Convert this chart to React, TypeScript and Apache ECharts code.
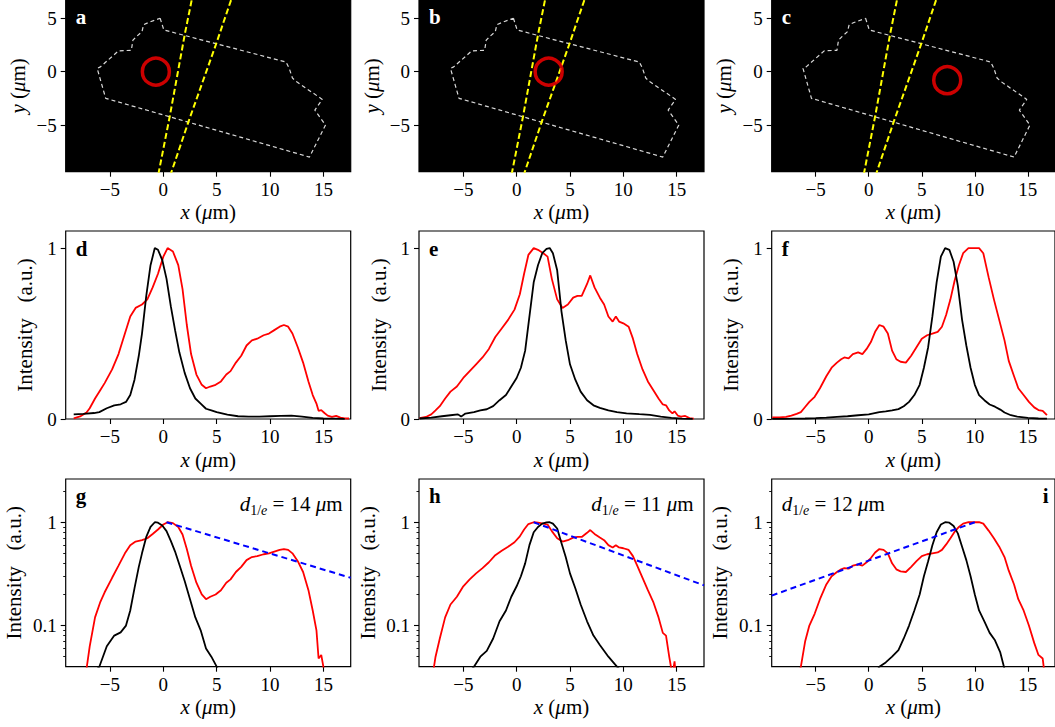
import React, { useEffect, useRef } from "react";
import * as echarts from "echarts";

// ---------- axis ranges & ticks ----------
const X_MIN = -9.15;
const X_MAX = 17.56;
const IMG_Y_MIN = -9.37;
const IMG_Y_MAX = 6.71;
const LIN_Y_MIN = 0;
const LIN_Y_MAX = 1.1;
const LOG_Y_MIN = 0.04;
const LOG_Y_MAX = 2.62;

const xTicks = [-5, 0, 5, 10, 15];
const imgYTicks = [-5, 0, 5];
const linYTicks = [0, 1];
const logYTicks = [0.1, 1];
const logMinorTicks = [0.05, 0.06, 0.07, 0.08, 0.09, 0.2, 0.3, 0.4, 0.5, 0.6, 0.7, 0.8, 0.9, 2];

const panelLetters = ["a", "b", "c", "d", "e", "f", "g", "h", "i"];
const decayLengths = [14, 11, 12];

// ---------- top row: cell outline, guide lines, excitation spot ----------
const cellX = [-0.3, 0.05, 11.5, 11.8, 12.1, 12.5, 14.9, 14.2, 15.2, 13.7, -5.4, -6.2, -5.9, -4.2, -3.0, -2.85, -2.5, -2.0, -1.85, -1.4, -0.3];
const cellY = [5.0, 3.9, 0.9, 0.3, -0.6, -0.95, -2.6, -3.6, -5.0, -8.0, -2.5, 0.3, 0.45, 1.95, 2.0, 2.95, 3.3, 3.75, 4.4, 4.6, 5.0];
const guide1X = [2.81, 2.66, 2.03, 0.6, -0.42, -0.54];
const guide1Y = [7.5, 6.71, 3.6, -4.2, -9.37, -10];
const guide2X = [6.62, 6.35, 4.97, 2.36, 0.77, 0.55];
const guide2Y = [7.5, 6.71, 2.66, -4.68, -9.37, -10];
const spotX = [-0.7, 3.0, 7.4];
const spotY = [0, 0, -0.8];

// ---------- profiles (panel d/g) ----------
const dRedX = [-8.4, -7.8, -7.2, -6.9, -6.4, -5.9, -5.5, -4.8, -4.2, -3.6, -3.1, -2.6, -2.0, -1.5, -1.0, -0.5, 0.0, 0.4, 0.9, 1.4, 1.8, 2.2, 2.6, 3.1, 3.6, 4.0, 4.4, 4.9, 5.4, 5.9, 6.3, 6.8, 7.3, 7.8, 8.3, 8.8, 9.4, 9.9, 10.4, 10.9, 11.3, 11.7, 12.1, 12.6, 13.1, 13.6, 14.0, 14.35, 14.55, 14.8, 15.1, 15.4, 15.8, 16.2, 16.6, 17.0, 17.4];
const dRedV = [0.004, 0.015, 0.038, 0.063, 0.12, 0.17, 0.21, 0.29, 0.38, 0.5, 0.6, 0.65, 0.67, 0.7, 0.77, 0.85, 0.95, 1.0, 0.98, 0.9, 0.76, 0.55, 0.38, 0.26, 0.2, 0.18, 0.19, 0.2, 0.22, 0.26, 0.28, 0.33, 0.37, 0.43, 0.46, 0.47, 0.49, 0.5, 0.52, 0.54, 0.55, 0.54, 0.5, 0.42, 0.33, 0.22, 0.14, 0.09, 0.048, 0.052, 0.035, 0.02, 0.012, 0.018, 0.008, 0.004, 0.003];
const dBlackX = [-8.4, -7.5, -6.5, -6.0, -5.3, -4.6, -4.0, -3.5, -3.1, -2.7, -2.3, -2.0, -1.6, -1.2, -0.8, -0.5, -0.1, 0.3, 0.7, 1.1, 1.5, 2.0, 2.5, 3.0, 3.5, 4.0, 4.5, 5.0, 6.0, 7.0, 8.0, 9.0, 10.0, 11.0, 12.0, 13.0, 14.0, 15.0, 16.0, 17.0];
const dBlackV = [0.027, 0.03, 0.035, 0.04, 0.063, 0.08, 0.086, 0.1, 0.14, 0.23, 0.37, 0.5, 0.72, 0.9, 1.0, 0.99, 0.93, 0.82, 0.66, 0.52, 0.39, 0.27, 0.18, 0.12, 0.09, 0.06, 0.05, 0.04, 0.025, 0.016, 0.014, 0.014, 0.016, 0.018, 0.02, 0.014, 0.006, 0.003, 0.002, 0.001];

// ---------- profiles (panel e/h) ----------
const eRedX = [-9.1, -8.5, -8.0, -7.6, -7.2, -6.7, -6.2, -5.6, -5.0, -4.4, -3.8, -3.2, -2.6, -2.0, -1.4, -0.8, -0.2, 0.3, 0.7, 1.1, 1.6, 2.0, 2.5, 2.9, 3.3, 3.8, 4.3, 4.8, 5.3, 5.7, 6.1, 6.6, 6.9, 7.3, 7.8, 8.2, 8.6, 9.0, 9.3, 9.6, 10.0, 10.5, 10.9, 11.3, 11.8, 12.3, 12.8, 13.3, 13.7, 14.0, 14.3, 14.6, 14.8, 15.1, 15.4, 15.8, 16.2, 16.6];
const eRedV = [0.005, 0.012, 0.027, 0.05, 0.075, 0.12, 0.16, 0.19, 0.24, 0.28, 0.32, 0.36, 0.41, 0.48, 0.53, 0.58, 0.64, 0.73, 0.85, 0.96, 1.0, 0.99, 0.97, 0.95, 0.82, 0.7, 0.65, 0.67, 0.71, 0.72, 0.72, 0.79, 0.84, 0.77, 0.71, 0.67, 0.6, 0.57, 0.6, 0.57, 0.56, 0.54, 0.47, 0.38, 0.29, 0.22, 0.17, 0.12, 0.085, 0.08, 0.05, 0.033, 0.045, 0.02, 0.014, 0.018, 0.005, 0.002];
const eBlackX = [-9.1, -8.0, -7.0, -6.2, -5.5, -5.2, -4.8, -4.0, -3.4, -2.8, -2.2, -1.6, -1.0, -0.5, 0.0, 0.4, 0.8, 1.2, 1.6, 2.0, 2.4, 2.8, 3.1, 3.4, 3.8, 4.2, 4.6, 5.0, 5.5, 6.0, 6.6, 7.2, 7.8, 8.6, 9.4, 10.3, 11.5, 12.5, 13.5, 14.5, 15.5, 16.5];
const eBlackV = [0.003, 0.008, 0.016, 0.022, 0.027, 0.014, 0.032, 0.04, 0.05, 0.057, 0.075, 0.11, 0.14, 0.19, 0.24, 0.3, 0.4, 0.6, 0.8, 0.9, 0.97, 0.995, 1.0, 0.97, 0.87, 0.63, 0.46, 0.32, 0.23, 0.16, 0.11, 0.08, 0.065, 0.05, 0.04, 0.033, 0.028, 0.024, 0.014, 0.006, 0.002, 0.001];

// ---------- profiles (panel f/i) ----------
const fRedX = [-9.1, -8.4, -7.8, -7.3, -6.8, -6.4, -6.0, -5.6, -5.1, -4.6, -4.0, -3.5, -3.0, -2.6, -2.3, -1.9, -1.5, -1.0, -0.6, -0.2, 0.2, 0.6, 1.0, 1.4, 1.8, 2.2, 2.6, 3.0, 3.5, 4.0, 4.5, 5.0, 5.5, 6.0, 6.5, 6.9, 7.3, 7.7, 8.1, 8.5, 8.9, 9.4, 9.9, 10.4, 10.8, 11.3, 11.8, 12.3, 12.8, 13.2, 13.7, 14.1, 14.6, 15.1, 15.6, 16.0, 16.4, 16.8];
const fRedV = [0.01, 0.01, 0.012, 0.02, 0.03, 0.04, 0.07, 0.1, 0.13, 0.18, 0.25, 0.3, 0.33, 0.35, 0.36, 0.355, 0.38, 0.39, 0.38, 0.41, 0.45, 0.51, 0.55, 0.54, 0.5, 0.4, 0.35, 0.335, 0.33, 0.37, 0.42, 0.47, 0.49, 0.5, 0.51, 0.54, 0.61, 0.7, 0.81, 0.9, 0.97, 1.0, 1.0, 1.0, 0.97, 0.83, 0.7, 0.58, 0.46, 0.34, 0.25, 0.18, 0.14, 0.1, 0.068, 0.052, 0.048, 0.022];
const fBlackX = [-9.1, -8.0, -7.0, -6.0, -5.0, -4.0, -3.0, -2.0, -1.0, 0.0, 1.0, 1.6, 2.2, 2.8, 3.3, 3.8, 4.3, 4.8, 5.2, 5.6, 6.0, 6.4, 6.8, 7.2, 7.6, 8.0, 8.4, 8.8, 9.2, 9.6, 10.0, 10.4, 10.9, 11.4, 11.9, 12.4, 12.8, 13.4, 14.0, 15.0, 16.0, 16.8];
const fBlackV = [0.0005, 0.001, 0.002, 0.003, 0.005, 0.008, 0.013, 0.016, 0.022, 0.027, 0.04, 0.044, 0.05, 0.058, 0.075, 0.1, 0.14, 0.2, 0.3, 0.42, 0.6, 0.8, 0.95, 1.0, 0.99, 0.92, 0.78, 0.58, 0.43, 0.3, 0.2, 0.14, 0.11, 0.085, 0.072, 0.055, 0.038, 0.022, 0.014, 0.006, 0.003, 0.002];

// ---------- exponential-decay guides (log panels) ----------
const gFitX = [0.3, 17.56];
const gFitV = [1.0, 0.29];
const hFitX = [1.6, 17.56];
const hFitV = [1.0, 0.245];
const iFitX = [-9.15, 10.0];
const iFitV = [0.195, 1.0];

// ---------- layout ----------
const FONT = "Liberation Serif, Times New Roman, serif";
const COL_LEFT = [65.7, 419, 771.7];
const GRID_W = 285;
const ROW_TOP = [0, 231, 479];
const ROW_H = [171.7, 188, 187.7];

const RED = "#ff0000";
const BLACK = "#000000";
const BLUE = "#0000ff";

const zip = (xs: number[], ys: number[]) => xs.map((x, i) => [x, ys[i]]);
const fmtTick = (v: number) => {
  const n = +Number(v).toPrecision(6);
  return n < 0 ? "\u2212" + String(-n) : String(n);
};

function buildOption() {
  const profiles = [
    { redX: dRedX, redV: dRedV, blackX: dBlackX, blackV: dBlackV, fitX: gFitX, fitV: gFitV },
    { redX: eRedX, redV: eRedV, blackX: eBlackX, blackV: eBlackV, fitX: hFitX, fitV: hFitV },
    { redX: fRedX, redV: fRedV, blackX: fBlackX, blackV: fBlackV, fitX: iFitX, fitV: iFitV },
  ];

  const grids: any[] = [];
  const xAxes: any[] = [];
  const yAxes: any[] = [];
  const series: any[] = [];
  const graphics: any[] = [];

  const tickLabel = {
    color: "#000",
    fontSize: 19,
    fontFamily: FONT,
    formatter: fmtTick,
  };
  const nameStyle = {
    color: "#000",
    fontSize: 21,
    fontFamily: FONT,
    rich: { i: { fontStyle: "italic", fontSize: 21, fontFamily: FONT, color: "#000" } },
  };
  const tickLine = { color: "#000", width: 1.1 };
  const noLine = { show: false, onZero: false };

  for (let r = 0; r < 3; r++) {
    for (let c = 0; c < 3; c++) {
      const g = r * 3 + c;
      grids.push({
        left: COL_LEFT[c],
        top: ROW_TOP[r],
        width: GRID_W,
        height: ROW_H[r],
        show: true,
        backgroundColor: r === 0 ? "#000" : "rgba(0,0,0,0)",
        borderColor: "#000",
        borderWidth: 1.2,
      });
      xAxes.push({
        type: "value",
        gridIndex: g,
        position: "bottom",
        min: X_MIN,
        max: X_MAX,
        axisLine: noLine,
        splitLine: { show: false },
        axisTick: { show: true, customValues: xTicks, length: 5, lineStyle: tickLine },
        axisLabel: { ...tickLabel, show: true, customValues: xTicks, margin: 8 },
        name: "{i|x} ({i|\u03bc}m)",
        nameLocation: "middle",
        nameGap: 30,
        nameTextStyle: nameStyle,
      });
      if (r === 0) {
        yAxes.push({
          type: "value",
          gridIndex: g,
          position: "left",
          min: IMG_Y_MIN,
          max: IMG_Y_MAX,
          axisLine: noLine,
          splitLine: { show: false },
          axisTick: { show: true, customValues: imgYTicks, length: 5, lineStyle: tickLine },
          axisLabel: { ...tickLabel, show: true, customValues: imgYTicks, margin: 9 },
          name: "{i|y} ({i|\u03bc}m)",
          nameLocation: "middle",
          nameRotate: 90,
          nameGap: 37,
          nameTextStyle: nameStyle,
        });
      } else if (r === 1) {
        yAxes.push({
          type: "value",
          gridIndex: g,
          position: "left",
          min: LIN_Y_MIN,
          max: LIN_Y_MAX,
          axisLine: noLine,
          splitLine: { show: false },
          axisTick: { show: true, customValues: linYTicks, length: 5, lineStyle: tickLine },
          axisLabel: { ...tickLabel, show: true, customValues: linYTicks, margin: 9 },
          name: "Intensity\u00a0\u00a0\u00a0(a.u.)",
          nameLocation: "middle",
          nameRotate: 90,
          nameGap: 30,
          nameTextStyle: nameStyle,
        });
      } else {
        yAxes.push({
          type: "log",
          logBase: 10,
          gridIndex: g,
          position: "left",
          min: LOG_Y_MIN,
          max: LOG_Y_MAX,
          axisLine: noLine,
          splitLine: { show: false },
          minorTick: { show: false },
          axisTick: { show: true, customValues: logYTicks, length: 5, lineStyle: tickLine },
          axisLabel: { ...tickLabel, show: true, customValues: logYTicks, margin: 9 },
          name: "Intensity\u00a0\u00a0\u00a0(a.u.)",
          nameLocation: "middle",
          nameRotate: 90,
          nameGap: 41,
          nameTextStyle: nameStyle,
        });
      }

      if (r === 0) {
        series.push({
          type: "line",
          xAxisIndex: g,
          yAxisIndex: g,
          data: zip(cellX, cellY),
          symbol: "none",
          silent: true,
          lineStyle: { color: "#d8d8d8", width: 1.2, type: [4, 3] },
          z: 2,
        });
        series.push({
          type: "line",
          xAxisIndex: g,
          yAxisIndex: g,
          data: zip(guide1X, guide1Y),
          symbol: "none",
          silent: true,
          lineStyle: { color: "#ffff00", width: 2, type: [6, 3] },
          z: 3,
        });
        series.push({
          type: "line",
          xAxisIndex: g,
          yAxisIndex: g,
          data: zip(guide2X, guide2Y),
          symbol: "none",
          silent: true,
          lineStyle: { color: "#ffff00", width: 2, type: [6, 3] },
          z: 3,
        });
        series.push({
          type: "scatter",
          xAxisIndex: g,
          yAxisIndex: g,
          data: [[spotX[c], spotY[c]]],
          symbol: "circle",
          symbolSize: 27,
          silent: true,
          itemStyle: { color: "rgba(0,0,0,0)", borderColor: RED, borderWidth: 3.5 },
          z: 4,
        });
      } else {
        const p = profiles[c];
        series.push({
          type: "line",
          xAxisIndex: g,
          yAxisIndex: g,
          data: zip(p.redX, p.redV),
          symbol: "none",
          silent: true,
          lineStyle: { color: RED, width: 1.8 },
          z: 2,
        });
        series.push({
          type: "line",
          xAxisIndex: g,
          yAxisIndex: g,
          data: zip(p.blackX, p.blackV),
          symbol: "none",
          silent: true,
          lineStyle: { color: BLACK, width: 1.8 },
          z: 3,
        });
        if (r === 2) {
          series.push({
            type: "line",
            xAxisIndex: g,
            yAxisIndex: g,
            data: zip(p.fitX, p.fitV),
            symbol: "none",
            silent: true,
            lineStyle: { color: BLUE, width: 2, type: [6, 4] },
            z: 4,
          });
        }
      }

      // panel letters
      const letterRight = g === 8;
      const letterY = [17, 248.5, 496][r];
      graphics.push({
        type: "text",
        x: letterRight ? COL_LEFT[c] + 277 : COL_LEFT[c] + 10,
        y: letterY,
        z: 10,
        style: {
          text: panelLetters[g],
          fill: r === 0 ? "#fff" : "#000",
          font: `bold 21px ${FONT}`,
          align: letterRight ? "right" : "left",
          textAlign: letterRight ? "right" : "left",
          verticalAlign: "middle",
          textVerticalAlign: "middle",
        },
      });
    }
  }

  // minor ticks for the log axes
  for (let c = 0; c < 3; c++) {
    yAxes.push({
      type: "log",
      logBase: 10,
      gridIndex: 6 + c,
      position: "left",
      min: LOG_Y_MIN,
      max: LOG_Y_MAX,
      axisLine: noLine,
      splitLine: { show: false },
      axisLabel: { show: false },
      axisTick: { show: true, customValues: logMinorTicks, length: 2.5, lineStyle: { color: "#000", width: 0.9 } },
    });
  }

  // decay-length annotations
  const annRich = {
    i: { fontStyle: "italic", fontSize: 21, fontFamily: FONT, lineHeight: 26 },
    s: { fontSize: 14, fontFamily: FONT, lineHeight: 14, verticalAlign: "bottom" },
    si: { fontSize: 14, fontStyle: "italic", fontFamily: FONT, lineHeight: 14, verticalAlign: "bottom" },
    n: { fontSize: 21, fontFamily: FONT, lineHeight: 26 },
  };
  const annPos = [
    { x: COL_LEFT[0] + 277, align: "right" },
    { x: COL_LEFT[1] + 274.5, align: "right" },
    { x: COL_LEFT[2] + 10, align: "left" },
  ];
  for (let c = 0; c < 3; c++) {
    graphics.push({
      type: "text",
      x: annPos[c].x,
      y: 504,
      z: 10,
      style: {
        text: `{i|d}{s|1/}{si|e}{n| = ${decayLengths[c]} }{i|\u03bc}{n|m}`,
        rich: annRich,
        fill: "#000",
        font: `21px ${FONT}`,
        align: annPos[c].align,
        textAlign: annPos[c].align,
        verticalAlign: "middle",
        textVerticalAlign: "middle",
      },
    });
  }

  return {
    animation: false,
    backgroundColor: "#fff",
    grid: grids,
    xAxis: xAxes,
    yAxis: yAxes,
    series,
    graphic: graphics,
  };
}

export default function App() {
  const ref = useRef<HTMLDivElement>(null);
  useEffect(() => {
    if (!ref.current) return;
    const chart = echarts.init(ref.current, null, { renderer: "svg" });
    chart.setOption(buildOption() as any);
    return () => chart.dispose();
  }, []);
  return (
    <div
      ref={ref}
      style={{ position: "absolute", left: 0, top: 0, width: 1055, height: 727, background: "#fff" }}
    />
  );
}
